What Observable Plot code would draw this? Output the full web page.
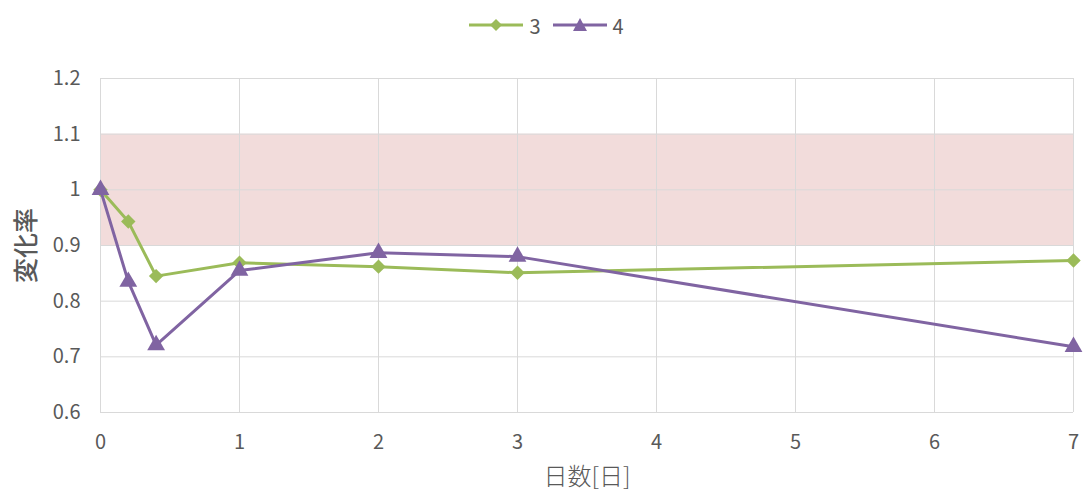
<!DOCTYPE html>
<html>
<head>
<meta charset="utf-8">
<script src="https://cdn.jsdelivr.net/npm/d3@7"></script>
<script src="https://cdn.jsdelivr.net/npm/@observablehq/plot@0.6"></script>
<style>
  html, body { margin: 0; padding: 0; background: #fff; }
  body { width: 1083px; height: 496px; overflow: hidden; font-family: "Noto Sans CJK JP", "Noto Sans", sans-serif; }
  #legend { height: 50px; display: flex; justify-content: center; align-items: center; gap: 10px; font-size: 20px; color: #595959; padding-left: 8px; }
  #legend .item { display: flex; align-items: center; gap: 4px; }
  #chart svg { display: block; }
</style>
</head>
<body>
<div id="legend"></div>
<div id="chart"></div>
<script>
// Elapsed days and rate of change for samples 3 and 4
const days = [0, 0.2, 0.4, 1, 2, 3, 7];
const series3 = [1.0, 0.943, 0.845, 0.869, 0.862, 0.851, 0.873];
const series4 = [1.0, 0.835, 0.721, 0.855, 0.887, 0.880, 0.718];
const seriesNames = ["3", "4"];
const xTicks = [0, 1, 2, 3, 4, 5, 6, 7];
const yTicks = [0.6, 0.7, 0.8, 0.9, 1.0, 1.1, 1.2];
const band = [{lo: 0.9, hi: 1.1}];

const colors = {"3": "#9bbb59", "4": "#8064a2"};

const rows3 = days.map((d, i) => ({day: d, value: series3[i], s: "3"}));
const rows4 = days.map((d, i) => ({day: d, value: series4[i], s: "4"}));

// Legend: line with marker, then name
const legend = d3.select("#legend");
for (const name of seriesNames) {
  const item = legend.append("div").attr("class", "item");
  const svg = item.append("svg").attr("width", 58).attr("height", 20);
  svg.append("line").attr("x1", 2).attr("x2", 56).attr("y1", 10).attr("y2", 10)
    .attr("stroke", colors[name]).attr("stroke-width", 3);
  if (name === "3") {
    svg.append("path").attr("d", "M29,4 L35,10 L29,16 L23,10 Z").attr("fill", colors[name]);
  } else {
    svg.append("path").attr("d", "M29,3 L36,16 L22,16 Z").attr("fill", colors[name]);
  }
  item.append("span").text(name);
}

const fmtY = d => (d === 1 ? "1" : d3.format(".1f")(d));
const fmtX = d => d3.format("d")(d);

const chart = Plot.plot({
  width: 1083,
  height: 446,
  marginTop: 28,
  marginBottom: 84,
  marginLeft: 100,
  marginRight: 10,
  style: {fontFamily: "'Noto Sans CJK JP', 'Noto Sans', sans-serif", fontSize: "20px", color: "#595959", background: "#fff"},
  x: {domain: [0, 7], ticks: xTicks, label: null},
  y: {domain: [0.6, 1.2], ticks: yTicks, label: null},
  marks: [
    Plot.rect(band, {x1: 0, x2: 7, y1: "lo", y2: "hi", fill: "#f2dcdb"}),
    Plot.ruleY(yTicks, {stroke: "#d9d9d9", strokeWidth: 1}),
    Plot.ruleX(xTicks, {stroke: "#d9d9d9", strokeWidth: 1}),
    Plot.axisY({ticks: yTicks, tickSize: 0, tickPadding: 20, tickFormat: fmtY, fontSize: 20, fill: "#595959"}),
    Plot.axisX({ticks: xTicks, tickSize: 0, tickPadding: 22, tickFormat: fmtX, fontSize: 20, fill: "#595959"}),
    Plot.text(["変化率"], {frameAnchor: "left", textAnchor: "middle", dx: -74, rotate: -90, fontSize: 25, fill: "#595959", fontWeight: 500}),
    Plot.text(["日数[日]"], {frameAnchor: "bottom", dy: 72, fontSize: 24, fill: "#595959", fontWeight: 300}),
    Plot.line(rows3, {x: "day", y: "value", stroke: colors["3"], strokeWidth: 3}),
    Plot.dot(rows3, {x: "day", y: "value", symbol: "diamond2", r: 6.5, fill: colors["3"], stroke: null}),
    Plot.line(rows4, {x: "day", y: "value", stroke: colors["4"], strokeWidth: 3}),
    Plot.dot(rows4, {x: "day", y: "value", symbol: "triangle2", r: 8.5, fill: colors["4"], stroke: null})
  ]
});
document.getElementById("chart").appendChild(chart);
</script>
</body>
</html>
